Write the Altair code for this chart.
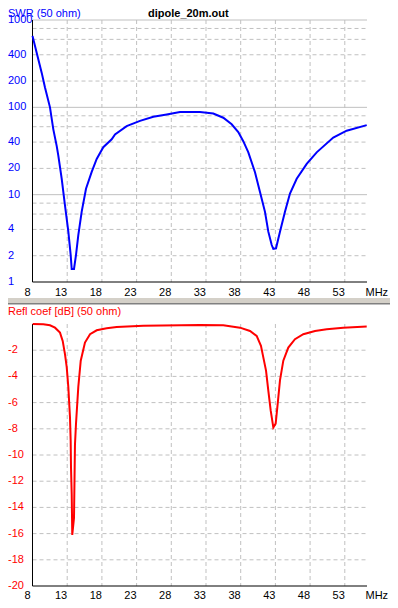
import altair as alt
import pandas as pd

# ---------------- data ----------------
swr_freq = [8.0, 8.61, 9.33, 9.80, 10.52, 11.00, 11.49, 11.72, 12.21, 12.68, 13.16, 13.50, 13.65,
            13.98, 14.27, 14.60, 15.09, 15.71, 16.53, 17.25, 18.20, 19.41, 19.89, 21.57, 23.49,
            25.41, 27.34, 29.25, 32.14, 34.05, 35.49, 36.70, 37.65, 38.37, 39.10, 40.06, 40.78,
            41.50, 41.98, 42.47, 42.70, 43.09, 43.66, 44.38, 45.10, 46.07, 47.51, 48.95, 51.34,
            53.27, 56.16]
swr_vals = [658, 419, 248, 169, 100, 56, 36, 28, 15.2, 7.55, 3.8, 2.04, 1.41,
            1.41, 2.04, 3.45, 6.4, 11.7, 18.2, 25.6, 35, 43, 49, 61, 70,
            78, 83, 88.5, 88.5, 85, 76, 64, 52, 41, 30.5, 18.1, 10.7,
            6.36, 3.77, 2.65, 2.39, 2.43, 3.77, 6.36, 10.3, 15.2, 22.5, 30.5, 45,
            54, 62.5]

rc_freq = [8.03, 9.56, 10.52, 11.24, 11.96, 12.35, 12.68, 12.93, 13.16, 13.40, 13.50, 13.55,
           13.65, 13.73, 13.98, 14.12, 14.27, 14.60, 14.95, 15.56, 16.29, 17.25, 18.69, 20.13,
           23.97, 32.14, 35.49, 37.90, 39.34, 40.30, 40.92, 41.26, 41.65, 41.98, 42.32, 42.70,
           43.04, 43.33, 43.66, 44.14, 44.86, 45.82, 47.02, 48.71, 50.39, 52.78, 56.16]
rc_vals = [0.0, -0.02, -0.1, -0.28, -0.66, -1.29, -2.3, -3.3, -4.8, -7.1, -8.9, -11.0,
           -13.0, -16.1, -14.8, -9.2, -7.6, -4.8, -2.8, -1.42, -0.78, -0.48, -0.33, -0.23,
           -0.13, -0.08, -0.1, -0.28, -0.53, -0.91, -1.67, -2.55, -3.56, -5.08, -6.6, -7.9,
           -7.6, -6.1, -4.3, -2.8, -1.8, -1.16, -0.78, -0.53, -0.4, -0.28, -0.2]

x_ticks = [8, 13, 18, 23, 28, 33, 38, 43, 48, 53]
swr_grid = [1, 2, 4, 6, 8, 10, 20, 40, 60, 80, 100, 200, 400, 600, 800, 1000]
swr_major = [10, 100, 1000]
swr_labels = [1, 2, 4, 10, 20, 40, 100, 200, 400, 1000]
rc_ticks = [-20, -18, -16, -14, -12, -10, -8, -6, -4, -2]

chart_title = "dipole_20m.out"
top_label = "SWR (50 ohm)"
bottom_label = "Refl coef [dB] (50 ohm)"
unit_label = "MHz"

# ---------------- layout / styling ----------------
FONT = "Liberation Sans"
W = 334.5
TOP_Y0, TOP_Y1 = 0, 262        # top panel (relative to plot origin)
BOT_Y0, BOT_Y1 = 304, 566      # bottom panel
H = BOT_Y1
GRID = "#c0c0c0"
BLUE = "#0000ff"
RED = "#ff0000"
DASH = [4, 3]

swr_df = pd.DataFrame({"f": swr_freq, "v": swr_vals})
rc_df = pd.DataFrame({"f": rc_freq, "v": rc_vals})
one = pd.DataFrame({"t": [0]})
xg_df = pd.DataFrame({"f": x_ticks[1:]})
xl_first_df = pd.DataFrame({"f": x_ticks[:1], "lab": [str(t) for t in x_ticks[:1]]})
xl_rest_df = pd.DataFrame({"f": x_ticks[1:], "lab": [str(t) for t in x_ticks[1:]]})
swr_minor_df = pd.DataFrame({"v": [g for g in swr_grid if g not in swr_major and g != swr_grid[0]]})
swr_major_df = pd.DataFrame({"v": swr_major})
swr_lab_df = pd.DataFrame({"v": swr_labels, "lab": [str(v) for v in swr_labels]})
rc_grid_df = pd.DataFrame({"v": rc_ticks[1:]})
rc_lab_df = pd.DataFrame({"v": rc_ticks, "lab": [str(v) for v in rc_ticks]})

x_scale = alt.Scale(domain=[8, 56.2], nice=False, zero=False)
X = alt.X("f:Q", scale=x_scale, axis=None)


def y_swr():
    return alt.Y("v:Q", scale=alt.Scale(type="log", domain=[1, 1000], range=[TOP_Y1, TOP_Y0], nice=False),
                 axis=None)


def y_rc():
    return alt.Y("v:Q", scale=alt.Scale(domain=[-20, 0], range=[BOT_Y1, BOT_Y0], nice=False, zero=False),
                 axis=None)


def text(**kw):
    base = dict(font=FONT, fontSize=11, baseline="middle")
    base.update(kw)
    return base


layers = []

# --- grids ---
layers.append(alt.Chart(swr_minor_df).mark_rule(color=GRID, strokeDash=DASH, strokeWidth=1).encode(
    y=y_swr(), x=alt.value(0), x2=alt.value(W)))
layers.append(alt.Chart(swr_major_df).mark_rule(color=GRID, strokeWidth=1).encode(
    y=y_swr(), x=alt.value(0), x2=alt.value(W)))
layers.append(alt.Chart(rc_grid_df).mark_rule(color=GRID, strokeDash=DASH, strokeWidth=1).encode(
    y=y_rc(), x=alt.value(0), x2=alt.value(W)))
layers.append(alt.Chart(xg_df).mark_rule(color=GRID, strokeDash=DASH, strokeWidth=1).encode(
    x=X, y=alt.value(TOP_Y0), y2=alt.value(TOP_Y1)))
layers.append(alt.Chart(xg_df).mark_rule(color=GRID, strokeDash=DASH, strokeWidth=1).encode(
    x=X, y=alt.value(BOT_Y0), y2=alt.value(BOT_Y1)))

# --- axis lines ---
for y0, y1 in [(TOP_Y0, TOP_Y1), (BOT_Y0, BOT_Y1)]:
    layers.append(alt.Chart(one).mark_rule(color="#000000", strokeWidth=1).encode(
        x=alt.value(0), y=alt.value(y0), y2=alt.value(y1)))
    layers.append(alt.Chart(one).mark_rule(color="#000000", strokeWidth=1).encode(
        x=alt.value(0), x2=alt.value(W), y=alt.value(y1)))

# --- curves ---
layers.append(alt.Chart(swr_df).mark_line(color=BLUE, strokeWidth=2).encode(x=X, y=y_swr()))
layers.append(alt.Chart(rc_df).mark_line(color=RED, strokeWidth=2).encode(x=X, y=y_rc()))

# --- tick labels ---
layers.append(alt.Chart(swr_lab_df).mark_text(**text(align="left", color=BLUE)).encode(
    y=y_swr(), x=alt.value(-24.5), text="lab:N"))
layers.append(alt.Chart(rc_lab_df).mark_text(**text(align="left", color=RED)).encode(
    y=y_rc(), x=alt.value(-24.5), text="lab:N"))
for yl in [TOP_Y1 + 10.5, BOT_Y1 + 9.5]:
    layers.append(alt.Chart(xl_rest_df).mark_text(**text(align="right", color="#000000")).encode(
        x=X, y=alt.value(yl), text="lab:N"))
    layers.append(alt.Chart(xl_first_df).mark_text(**text(align="right", color="#000000", dx=-2)).encode(
        x=X, y=alt.value(yl), text="lab:N"))
    layers.append(alt.Chart(one).mark_text(**text(align="left", color="#000000")).encode(
        x=alt.value(333), y=alt.value(yl), text=alt.value(unit_label)))

# --- titles ---
layers.append(alt.Chart(one).mark_text(**text(align="left", color="#000000", fontWeight="bold")).encode(
    x=alt.value(115.5), y=alt.value(-6), text=alt.value(chart_title)))
layers.append(alt.Chart(one).mark_text(**text(align="left", color=BLUE)).encode(
    x=alt.value(-24.5), y=alt.value(-6.5), text=alt.value(top_label)))
layers.append(alt.Chart(one).mark_text(**text(align="left", color=RED)).encode(
    x=alt.value(-24.5), y=alt.value(BOT_Y0 - 12), text=alt.value(bottom_label)))

# --- window splitter between the two panels ---
layers.append(alt.Chart(one).mark_rect(color="#d4d0c8").encode(
    x=alt.value(-24.5), x2=alt.value(357.5), y=alt.value(TOP_Y1 + 16), y2=alt.value(TOP_Y1 + 21)))
layers.append(alt.Chart(one).mark_rect(color="#808080").encode(
    x=alt.value(-24.5), x2=alt.value(357.5), y=alt.value(TOP_Y1 + 21), y2=alt.value(TOP_Y1 + 22.5)))

chart = alt.layer(*layers).resolve_scale(y="independent").properties(
    width=W, height=H,
    autosize=alt.AutoSizeParams(type="none"),
    padding={"left": 24.5, "top": 12, "right": 23, "bottom": 592 - 12 - H},
    background="#ffffff",
).configure_view(stroke=None)

chart.save("out.html", embed_options={"renderer": "svg", "actions": False})
